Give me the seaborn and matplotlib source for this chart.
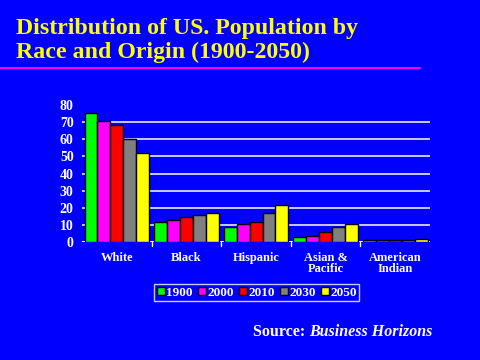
import matplotlib
matplotlib.use("Agg")
import matplotlib.pyplot as plt
import seaborn as sns
import pandas as pd
from matplotlib.lines import Line2D

categories = ["White", "Black", "Hispanic", "Asian &\nPacific", "American\nIndian"]
years = ["1900", "2000", "2010", "2030", "2050"]
v1900 = [75.3, 11.6, 8.8, 2.9, 0.9]
v2000 = [70.9, 12.9, 10.6, 3.7, 0.9]
v2010 = [68.2, 14.3, 11.8, 5.9, 0.9]
v2030 = [60.0, 15.9, 17.1, 8.8, 1.0]
v2050 = [51.8, 17.1, 21.8, 10.6, 1.5]
yticks = [0, 10, 20, 30, 40, 50, 60, 70, 80]

colors = ["#00FF00", "#FF00FF", "#FF0000", "#808080", "#FFFF00"]
BG = "#0000FF"

rows = []
for yr, vals in zip(years, [v1900, v2000, v2010, v2030, v2050]):
    for c, v in zip(categories, vals):
        rows.append({"cat": c, "year": yr, "val": v})
df = pd.DataFrame(rows)

sns.set_style("white")
plt.rcParams["font.family"] = ["Liberation Serif", "DejaVu Serif"]

fig = plt.figure(figsize=(4.8, 3.6), dpi=100, facecolor=BG)
ax = fig.add_axes([0.171, 0.328, 0.725, 0.38])
ax.set_facecolor(BG)

for y in yticks[1:-1]:
    ax.axhline(y, color="white", lw=1.1, zorder=0)
ax.axhline(0, color="white", lw=1.4, zorder=1)

sns.barplot(data=df, x="cat", y="val", hue="year", order=categories,
            hue_order=years, palette=colors, width=0.93, saturation=1,
            edgecolor="black", linewidth=1.0, ax=ax, legend=False, zorder=2)

ax.set_xlim(-0.5, 4.5)
ax.set_ylim(0, 80)
ax.set_yticks(yticks)
ax.set_yticklabels([str(t) for t in yticks], color="white", fontsize=10,
                   fontweight="bold")
ax.set_xticks(range(len(categories)))
ax.set_xticklabels(categories, color="white", fontsize=9, fontweight="bold",
                   linespacing=0.95)
ax.tick_params(axis="x", length=0, pad=7)
ax.tick_params(axis="y", length=0, pad=6)
for b in [0.5, 1.5, 2.5, 3.5]:
    ax.plot([b, b], [0, -2.2], color="white", lw=1, clip_on=False, zorder=3)
for s in ["top", "right", "left", "bottom"]:
    ax.spines[s].set_visible(False)
ax.set_xlabel("")
ax.set_ylabel("")

handles = [Line2D([0], [0], marker="s", linestyle="none", markersize=6,
                  markerfacecolor=col, markeredgecolor="black")
           for col in colors]
leg = fig.legend(handles, years, loc="center", bbox_to_anchor=(0.535, 0.187),
                 ncol=5, frameon=True, handlelength=0.6,
                 handletextpad=0.1, columnspacing=0.4, borderpad=0.2,
                 fancybox=False, prop={"weight": "bold", "size": 9.5})
leg.get_frame().set_facecolor(BG)
leg.get_frame().set_edgecolor("white")
leg.get_frame().set_linewidth(1.0)
for t in leg.get_texts():
    t.set_color("white")

fig.text(0.033, 0.888, "Distribution of US. Population by\nRace and Origin (1900-2050)",
         color="#FFFF00", fontsize=17.2, fontweight="bold", va="center",
         ha="left", linespacing=1.2)
fig.add_artist(Line2D([0, 0.875], [0.811, 0.811], color="#FF00FF", lw=1.5))

t1 = fig.text(0.527, 0.078, "Source: ", color="white", fontsize=11.5,
              fontweight="bold", ha="left", va="center")
fig.canvas.draw()
bb = t1.get_window_extent(renderer=fig.canvas.get_renderer())
x2 = bb.x1 / fig.bbox.width
fig.text(x2, 0.078, "Business Horizons", color="white", fontsize=11.5,
         style="italic", fontweight="bold", ha="left", va="center")

fig.savefig("out.png", dpi=100, facecolor=BG)
